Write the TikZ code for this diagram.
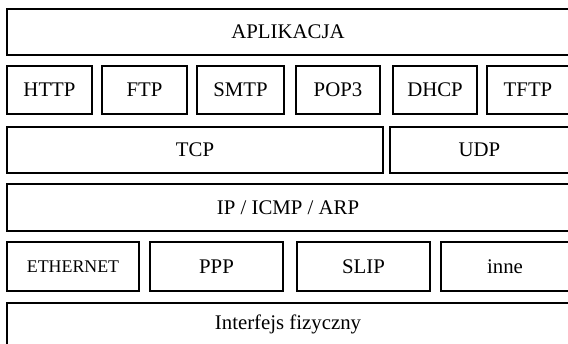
\documentclass[tikz,border=0pt]{standalone}
\usepackage{fontspec}
\setmainfont{Liberation Serif}

\tikzset{every picture/.style={line width=0.75pt}}
\tikzset{layer/.style={draw, rectangle, line width=1.2pt, inner sep=0pt, font=\fontsize{15.6}{18}\selectfont}}

\begin{document}
\begin{tikzpicture}[x=0.75pt,y=0.75pt,yscale=-1,xscale=1]
	%set diagram size: 568 x 343
	\clip (0,0) rectangle (568,343);

	%Layer: application
	\node [layer, minimum width=562*0.75pt, minimum height=46*0.75pt] (aplikacja) at (288,32) {APLIKACJA};

	%Layer: application protocols
	\node [layer, minimum width=85*0.75pt, minimum height=48*0.75pt] (http) at (49.5,90) {HTTP};
	\node [layer, minimum width=85*0.75pt, minimum height=48*0.75pt] (ftp) at (144.5,90) {FTP};
	\node [layer, minimum width=87*0.75pt, minimum height=48*0.75pt] (smtp) at (240.5,90) {SMTP};
	\node [layer, minimum width=84*0.75pt, minimum height=48*0.75pt] (pop) at (338,90) {POP3};
	\node [layer, minimum width=84*0.75pt, minimum height=48*0.75pt] (dhcp) at (435,90) {DHCP};
	\node [layer, minimum width=82*0.75pt, minimum height=48*0.75pt] (tftp) at (528,90) {TFTP};

	%Layer: transport
	\node [layer, minimum width=376*0.75pt, minimum height=46*0.75pt] (tcp) at (195,150) {TCP};
	\node [layer, minimum width=179*0.75pt, minimum height=46*0.75pt] (udp) at (479.5,150) {UDP};

	%Layer: network
	\node [layer, minimum width=562*0.75pt, minimum height=47*0.75pt] (ip) at (288,207.5) {IP / ICMP / ARP};

	%Layer: link
	\node [layer, minimum width=132*0.75pt, minimum height=49*0.75pt, font=\fontsize{13.4}{16}\selectfont] (ethernet) at (73,266.5) {ETHERNET};
	\node [layer, minimum width=133*0.75pt, minimum height=49*0.75pt] (ppp) at (216.5,266.5) {PPP};
	\node [layer, minimum width=133*0.75pt, minimum height=49*0.75pt] (slip) at (363.5,266.5) {SLIP};
	\node [layer, minimum width=128*0.75pt, minimum height=49*0.75pt] (inne) at (505,266.5) {inne};

	%Layer: physical
	\node [layer, minimum width=562*0.75pt, minimum height=42*0.75pt] (fizyczny) at (288,324) {Interfejs fizyczny};

\end{tikzpicture}
\end{document}
